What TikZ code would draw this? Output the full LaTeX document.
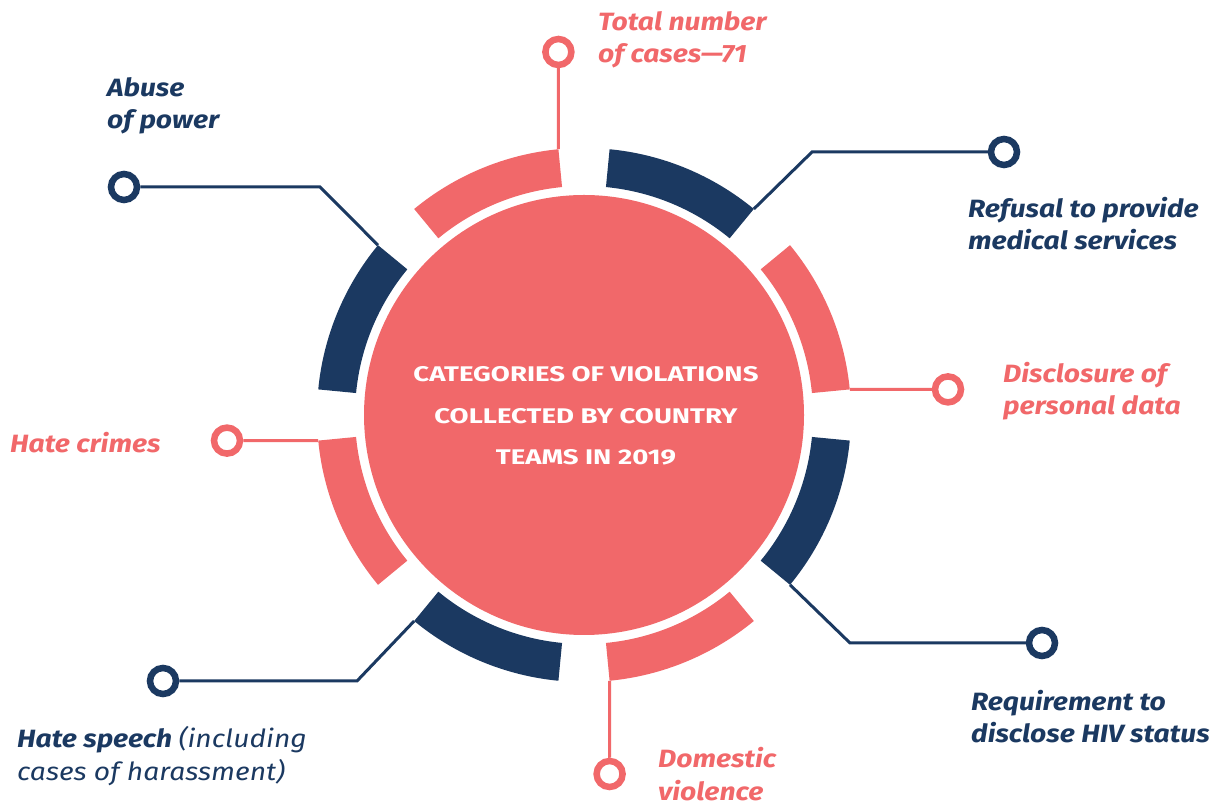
\documentclass[tikz,border=0pt]{standalone}
\usepackage{fontspec}
\setmainfont{Fira Sans}
\newfontfamily\labfont{Fira Sans}[FakeStretch=1.13]
\newfontfamily\titlefont{Fira Sans}[FakeStretch=1.3]
\definecolor{cpink}{HTML}{F1686A}
\definecolor{cnavy}{HTML}{1B3961}
\begin{document}
\begin{tikzpicture}[x=1pt,y=1pt,
  conn/.style={line width=3pt},
  marker/.style={circle,draw,line width=6.5pt,minimum size=26pt,inner sep=0pt,fill=white},
  lab/.style={anchor=base west,inner sep=0pt,align=left,font=\labfont\fontsize{25}{32.5}\selectfont\bfseries\itshape},
]
\useasboundingbox (0,0) rectangle (1222,805);
\coordinate (c) at (584,390);
% central disc
\fill[cpink] (c) circle[radius=220];
\node[align=center,text=white,inner sep=0pt,anchor=base,font=\titlefont\fontsize{21.2}{41.5}\selectfont\bfseries] (title) at (586,340)
  {CATEGORIES OF VIOLATIONS\\COLLECTED BY COUNTRY\\TEAMS IN 2019};
% ring segments
\begin{scope}[shift={(c)}]
\foreach \k/\col in {0/cpink,1/cnavy,2/cpink,3/cnavy,4/cpink,5/cnavy,6/cpink,7/cnavy}{
  \pgfmathsetmacro{\aa}{5.5+45*\k}
  \pgfmathsetmacro{\ab}{39.5+45*\k}
  \fill[\col] (\aa:267) arc[start angle=\aa,end angle=\ab,radius=267] -- (\ab:229) arc[start angle=\ab,end angle=\aa,radius=229] -- cycle;
}
\end{scope}
% segment end points
\coordinate (s0) at ([shift={(5.5:267)}]c);
\coordinate (s1) at ([shift={(50.5:267)}]c);
\coordinate (s2) at ([shift={(95.5:267)}]c);
\coordinate (s3) at ([shift={(140.5:267)}]c);
\coordinate (s4) at ([shift={(185.5:267)}]c);
\coordinate (s5) at ([shift={(230.5:267)}]c);
\coordinate (s6) at ([shift={(275.5:267)}]c);
\coordinate (s7) at ([shift={(320.5:267)}]c);
% bends
\coordinate (k1) at (812,653);
\coordinate (k3) at (320,618);
\coordinate (k5) at (357,124);
\coordinate (k7) at (850,162);
% markers
\node[marker,draw=cpink] (m2) at (558.4,753) {};
\node[marker,draw=cnavy] (m1) at (1004,653) {};
\node[marker,draw=cpink] (m0) at (948,415.6) {};
\node[marker,draw=cnavy] (m7) at (1042,162) {};
\node[marker,draw=cpink] (m6) at (609.6,31) {};
\node[marker,draw=cnavy] (m5) at (163,124) {};
\node[marker,draw=cpink] (m4) at (227,364.4) {};
\node[marker,draw=cnavy] (m3) at (124,618) {};
% connectors
\draw[conn,cpink] (s2) -- (m2);
\draw[conn,cnavy] (s1) -- (k1) -- (m1);
\draw[conn,cpink] (s0) -- (m0);
\draw[conn,cnavy] (s7) -- (k7) -- (m7);
\draw[conn,cpink] (s6) -- (m6);
\draw[conn,cnavy] (s5) -- (k5) -- (m5);
\draw[conn,cpink] (s4) -- (m4);
\draw[conn,cnavy] (s3) -- (k3) -- (m3);
% labels
\node[lab,text=cpink] (l2) at (598,742) {Total number\\of cases—71};
\node[lab,text=cnavy] (l1) at (968,555) {Refusal to provide\\medical services};
\node[lab,text=cpink] (l0) at (1003,390) {Disclosure of\\personal data};
\node[lab,text=cnavy] (l7) at (971,62) {Requirement to\\disclose HIV status};
\node[lab,text=cpink] (l6) at (658,5) {Domestic\\violence};
\node[lab,text=cnavy] (l5) at (17,25) {Hate speech \mdseries(including\\\mdseries cases of harassment)};
\node[lab,text=cpink] (l4) at (10,352) {Hate crimes};
\node[lab,text=cnavy] (l3) at (107,676) {Abuse\\of power};
\end{tikzpicture}
\end{document}
